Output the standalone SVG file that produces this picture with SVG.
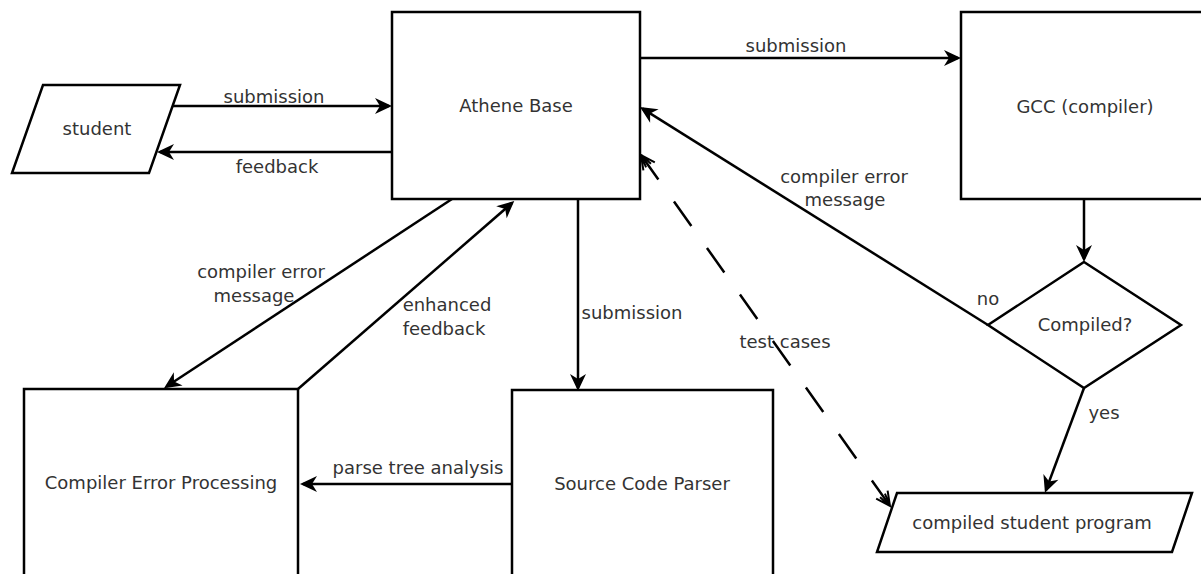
<svg xmlns="http://www.w3.org/2000/svg" width="1201" height="574" viewBox="0 0 1201 574">
<defs>
<style>
.box{fill:#fff;stroke:#000;stroke-width:2.5}
.ln{fill:none;stroke:#000;stroke-width:2.5}
.t{font-family:"DejaVu Sans","Liberation Sans",sans-serif;font-size:18px;fill:#333;text-anchor:middle}
</style>
<marker id="ah" markerUnits="userSpaceOnUse" markerWidth="24" markerHeight="24" viewBox="-18 -10 24 20" refX="0" refY="0" orient="auto">
<path d="M3,0 L-14,-8 L-9,0 L-14,8 Z" fill="#000"/>
</marker>
<marker id="oh" markerUnits="userSpaceOnUse" markerWidth="24" markerHeight="24" viewBox="-18 -10 24 20" refX="0" refY="0" orient="auto-start-reverse">
<path d="M-14,-7 L0,0 L-14,7 M-13,-3 L0,0 M-13,3 L0,0" fill="none" stroke="#000" stroke-width="2"/>
</marker>
</defs>
<rect width="1201" height="574" fill="#fff"/>

<g id="connectors">
<line class="ln" x1="173" y1="106" x2="389" y2="106" marker-end="url(#ah)"/>
<line class="ln" x1="392" y1="152" x2="160" y2="152" marker-end="url(#ah)"/>
<line class="ln" x1="640" y1="58" x2="958" y2="58" marker-end="url(#ah)"/>
<line class="ln" x1="1084" y1="199" x2="1084" y2="259" marker-end="url(#ah)"/>
<line class="ln" x1="988" y1="325" x2="642.5" y2="108.6" marker-end="url(#ah)"/>
<line class="ln" x1="1084" y1="388" x2="1046" y2="490" marker-end="url(#ah)"/>
<line class="ln" x1="578" y1="199" x2="578" y2="388" marker-end="url(#ah)"/>
<line class="ln" x1="452" y1="199" x2="166.5" y2="386.5" marker-end="url(#ah)"/>
<line class="ln" x1="298" y1="389" x2="512" y2="203" marker-end="url(#ah)"/>
<line class="ln" x1="512" y1="484" x2="303" y2="484" marker-end="url(#ah)"/>
<line class="ln" x1="641" y1="155" x2="890" y2="506" stroke-dasharray="30 27" marker-start="url(#oh)" marker-end="url(#oh)"/>
<text class="t" x="274" y="103">submission</text>
<text class="t" x="277" y="173">feedback</text>
<text class="t" x="796" y="52">submission</text>
<text class="t" x="844" y="183">compiler error</text>
<text class="t" x="845" y="206">message</text>
<text class="t" x="988" y="305">no</text>
<text class="t" x="1104" y="419">yes</text>
<text class="t" x="632" y="319">submission</text>
<text class="t" x="785" y="348">test cases</text>
<text class="t" x="261" y="278">compiler error</text>
<text class="t" x="254" y="302">message</text>
<text class="t" x="447" y="311">enhanced</text>
<text class="t" x="444" y="335">feedback</text>
<text class="t" x="418" y="474">parse tree analysis</text>
</g>

<g id="student">
<polygon class="box" points="43,85 180,85 149,173 12,173"/>
<text class="t" x="97" y="135">student</text>
</g>
<g id="athene">
<rect class="box" x="392" y="12" width="248" height="187"/>
<text class="t" x="516" y="112">Athene Base</text>
</g>
<g id="gcc">
<rect class="box" x="961" y="12" width="260" height="187"/>
<text class="t" x="1085" y="113">GCC (compiler)</text>
</g>
<g id="compiled">
<polygon class="box" points="1084,262 1181,325 1084,388 988,325"/>
<text class="t" x="1085" y="331">Compiled?</text>
</g>
<g id="program">
<polygon class="box" points="897,493 1192,493 1172,552 877,552"/>
<text class="t" x="1032" y="529">compiled student program</text>
</g>
<g id="cep">
<rect class="box" x="24" y="389" width="274" height="200"/>
<text class="t" x="161" y="489">Compiler Error Processing</text>
</g>
<g id="parser">
<rect class="box" x="512" y="390" width="261" height="200"/>
<text class="t" x="642" y="490">Source Code Parser</text>
</g>
</svg>
